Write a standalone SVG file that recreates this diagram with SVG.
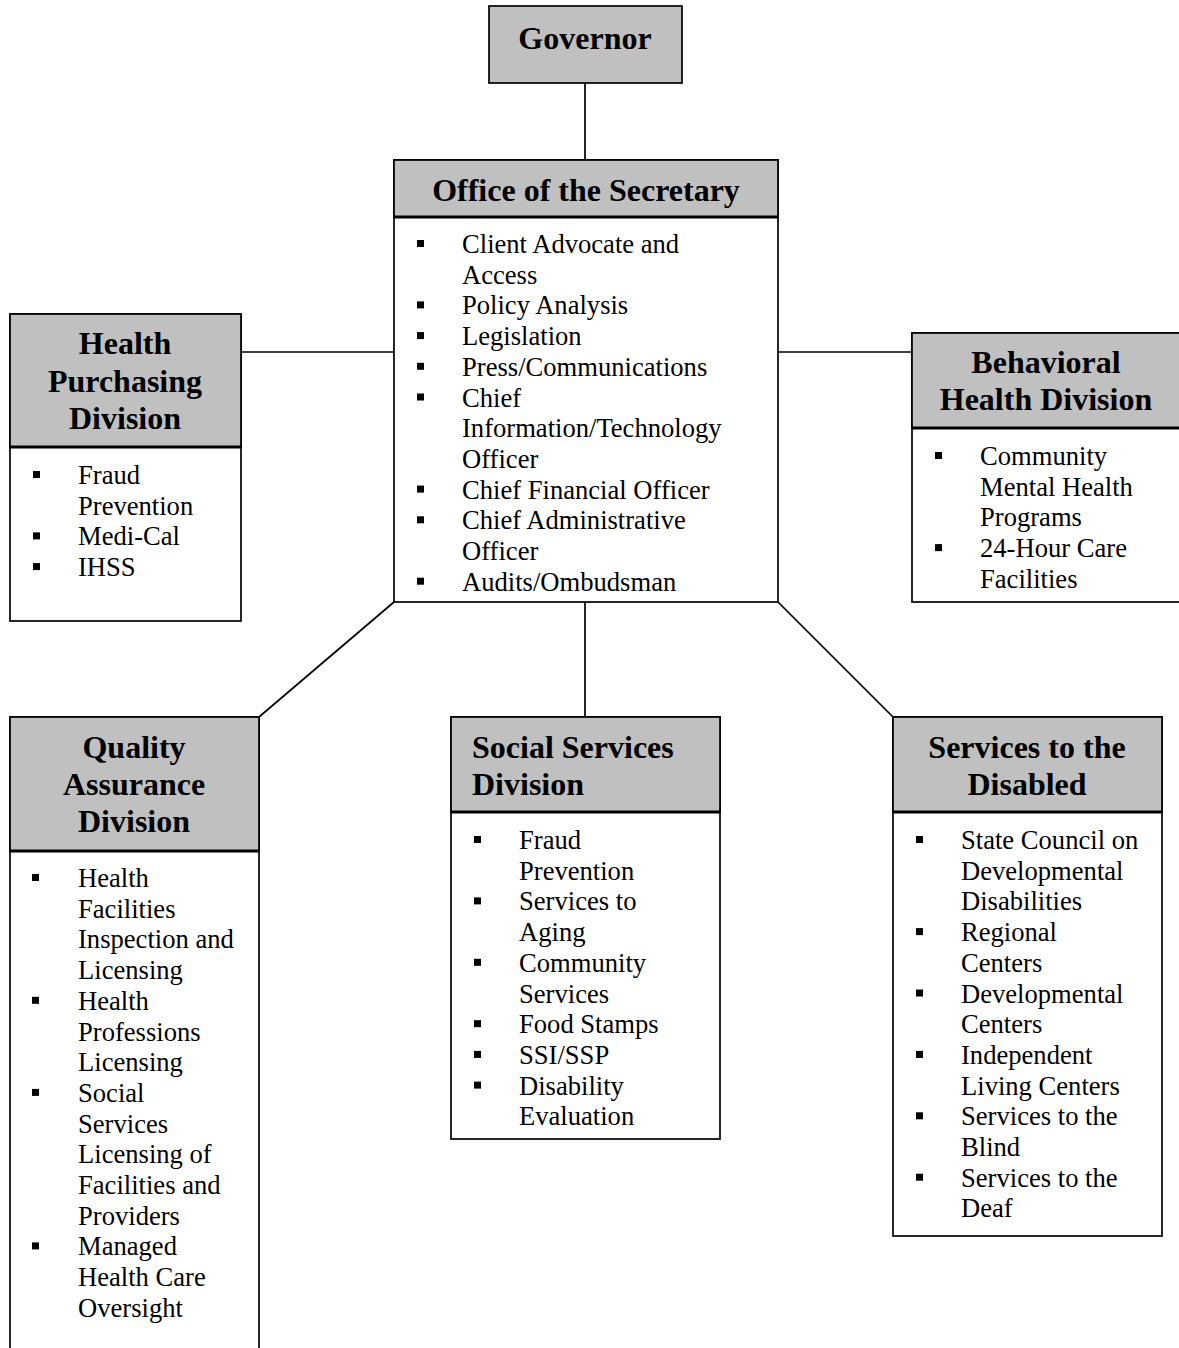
<svg xmlns="http://www.w3.org/2000/svg" width="1179" height="1348" viewBox="0 0 1179 1348">
<style>
.hdr{fill:#c0c0c0;stroke:#000;stroke-width:1.7}
.body{fill:#fff;stroke:#000;stroke-width:1.7}
.div{stroke:#000;stroke-width:2.8}
.t{font-family:"Liberation Serif","Times New Roman",serif;font-weight:bold;font-size:32px;fill:#000}
.tc{text-anchor:middle}
.i{font-family:"Liberation Serif","Times New Roman",serif;font-size:26.6px;fill:#000}
.b{fill:#000}
.c{stroke:#000;stroke-width:1.7;fill:none}
</style>
<rect width="1179" height="1348" fill="#fff"/>
<g id="connectors">
<line class="c" x1="585" y1="83" x2="585" y2="160"/>
<line class="c" x1="241" y1="352" x2="394" y2="352"/>
<line class="c" x1="778" y1="352" x2="912" y2="352"/>
<line class="c" x1="394" y1="602" x2="259" y2="717"/>
<line class="c" x1="585" y1="602" x2="585" y2="717"/>
<line class="c" x1="778" y1="602" x2="893" y2="717"/>
</g>
<g id="governor">
<rect class="hdr" x="489" y="6" width="193" height="77"/>
<text class="t tc" x="585" y="49">Governor</text>
</g>
<g id="office">
<rect class="body" x="394" y="160" width="384" height="442"/>
<rect class="hdr" x="394" y="160" width="384" height="57"/>
<line class="div" x1="394" y1="217" x2="778" y2="217"/>
<text class="t tc" x="586" y="201">Office of the Secretary</text>
<g class="b">
<rect x="417" y="240" width="7" height="7"/>
<rect x="417" y="301.4" width="7" height="7"/>
<rect x="417" y="332.1" width="7" height="7"/>
<rect x="417" y="362.8" width="7" height="7"/>
<rect x="417" y="393.5" width="7" height="7"/>
<rect x="417" y="485.6" width="7" height="7"/>
<rect x="417" y="516.3" width="7" height="7"/>
<rect x="417" y="577.7" width="7" height="7"/>
</g>
<text class="i">
<tspan x="462" y="253">Client Advocate and</tspan>
<tspan x="462" y="283.7">Access</tspan>
<tspan x="462" y="314.4">Policy Analysis</tspan>
<tspan x="462" y="345.1">Legislation</tspan>
<tspan x="462" y="375.8">Press/Communications</tspan>
<tspan x="462" y="406.5">Chief</tspan>
<tspan x="462" y="437.2">Information/Technology</tspan>
<tspan x="462" y="467.9">Officer</tspan>
<tspan x="462" y="498.6">Chief Financial Officer</tspan>
<tspan x="462" y="529.3">Chief Administrative</tspan>
<tspan x="462" y="560">Officer</tspan>
<tspan x="462" y="590.7">Audits/Ombudsman</tspan>
</text>
</g>
<g id="health-purchasing">
<rect class="body" x="10" y="314" width="231" height="307"/>
<rect class="hdr" x="10" y="314" width="231" height="133"/>
<line class="div" x1="10" y1="447" x2="241" y2="447"/>
<text class="t tc"><tspan x="125" y="354">Health</tspan><tspan x="125" y="391.5">Purchasing</tspan><tspan x="125" y="429">Division</tspan></text>
<g class="b">
<rect x="33" y="471" width="7" height="7"/>
<rect x="33" y="532.4" width="7" height="7"/>
<rect x="33" y="563.1" width="7" height="7"/>
</g>
<text class="i">
<tspan x="78" y="484">Fraud</tspan>
<tspan x="78" y="514.7">Prevention</tspan>
<tspan x="78" y="545.4">Medi-Cal</tspan>
<tspan x="78" y="576.1">IHSS</tspan>
</text>
</g>
<g id="behavioral-health">
<rect class="body" x="912" y="333" width="280" height="269"/>
<rect class="hdr" x="912" y="333" width="280" height="95"/>
<line class="div" x1="912" y1="428" x2="1192" y2="428"/>
<text class="t tc"><tspan x="1046" y="373">Behavioral</tspan><tspan x="1046" y="410">Health Division</tspan></text>
<g class="b">
<rect x="935" y="452" width="7" height="7"/>
<rect x="935" y="544.1" width="7" height="7"/>
</g>
<text class="i">
<tspan x="980" y="465">Community</tspan>
<tspan x="980" y="495.7">Mental Health</tspan>
<tspan x="980" y="526.4">Programs</tspan>
<tspan x="980" y="557.1">24-Hour Care</tspan>
<tspan x="980" y="587.8">Facilities</tspan>
</text>
</g>
<g id="quality-assurance">
<rect class="body" x="10" y="717" width="249" height="660"/>
<rect class="hdr" x="10" y="717" width="249" height="134"/>
<line class="div" x1="10" y1="851" x2="259" y2="851"/>
<text class="t tc"><tspan x="134" y="758">Quality</tspan><tspan x="134" y="795">Assurance</tspan><tspan x="134" y="832">Division</tspan></text>
<g class="b">
<rect x="32" y="874" width="7" height="7"/>
<rect x="32" y="996.8" width="7" height="7"/>
<rect x="32" y="1088.9" width="7" height="7"/>
<rect x="32" y="1242.4" width="7" height="7"/>
</g>
<text class="i">
<tspan x="78" y="887">Health</tspan>
<tspan x="78" y="917.7">Facilities</tspan>
<tspan x="78" y="948.4">Inspection and</tspan>
<tspan x="78" y="979.1">Licensing</tspan>
<tspan x="78" y="1009.8">Health</tspan>
<tspan x="78" y="1040.5">Professions</tspan>
<tspan x="78" y="1071.2">Licensing</tspan>
<tspan x="78" y="1101.9">Social</tspan>
<tspan x="78" y="1132.6">Services</tspan>
<tspan x="78" y="1163.3">Licensing of</tspan>
<tspan x="78" y="1194">Facilities and</tspan>
<tspan x="78" y="1224.7">Providers</tspan>
<tspan x="78" y="1255.4">Managed</tspan>
<tspan x="78" y="1286.1">Health Care</tspan>
<tspan x="78" y="1316.8">Oversight</tspan>
</text>
</g>
<g id="social-services">
<rect class="body" x="451" y="717" width="269" height="422"/>
<rect class="hdr" x="451" y="717" width="269" height="95"/>
<line class="div" x1="451" y1="812" x2="720" y2="812"/>
<text class="t"><tspan x="472" y="758">Social Services</tspan><tspan x="472" y="795">Division</tspan></text>
<g class="b">
<rect x="474" y="836" width="7" height="7"/>
<rect x="474" y="897.4" width="7" height="7"/>
<rect x="474" y="958.8" width="7" height="7"/>
<rect x="474" y="1020.2" width="7" height="7"/>
<rect x="474" y="1050.9" width="7" height="7"/>
<rect x="474" y="1081.6" width="7" height="7"/>
</g>
<text class="i">
<tspan x="519" y="849">Fraud</tspan>
<tspan x="519" y="879.7">Prevention</tspan>
<tspan x="519" y="910.4">Services to</tspan>
<tspan x="519" y="941.1">Aging</tspan>
<tspan x="519" y="971.8">Community</tspan>
<tspan x="519" y="1002.5">Services</tspan>
<tspan x="519" y="1033.2">Food Stamps</tspan>
<tspan x="519" y="1063.9">SSI/SSP</tspan>
<tspan x="519" y="1094.6">Disability</tspan>
<tspan x="519" y="1125.3">Evaluation</tspan>
</text>
</g>
<g id="services-disabled">
<rect class="body" x="893" y="717" width="269" height="519"/>
<rect class="hdr" x="893" y="717" width="269" height="95"/>
<line class="div" x1="893" y1="812" x2="1162" y2="812"/>
<text class="t tc"><tspan x="1027" y="758">Services to the</tspan><tspan x="1027" y="795">Disabled</tspan></text>
<g class="b">
<rect x="916" y="836" width="7" height="7"/>
<rect x="916" y="928.1" width="7" height="7"/>
<rect x="916" y="989.5" width="7" height="7"/>
<rect x="916" y="1050.9" width="7" height="7"/>
<rect x="916" y="1112.3" width="7" height="7"/>
<rect x="916" y="1173.7" width="7" height="7"/>
</g>
<text class="i">
<tspan x="961" y="849">State Council on</tspan>
<tspan x="961" y="879.7">Developmental</tspan>
<tspan x="961" y="910.4">Disabilities</tspan>
<tspan x="961" y="941.1">Regional</tspan>
<tspan x="961" y="971.8">Centers</tspan>
<tspan x="961" y="1002.5">Developmental</tspan>
<tspan x="961" y="1033.2">Centers</tspan>
<tspan x="961" y="1063.9">Independent</tspan>
<tspan x="961" y="1094.6">Living Centers</tspan>
<tspan x="961" y="1125.3">Services to the</tspan>
<tspan x="961" y="1156">Blind</tspan>
<tspan x="961" y="1186.7">Services to the</tspan>
<tspan x="961" y="1217.4">Deaf</tspan>
</text>
</g>
</svg>
